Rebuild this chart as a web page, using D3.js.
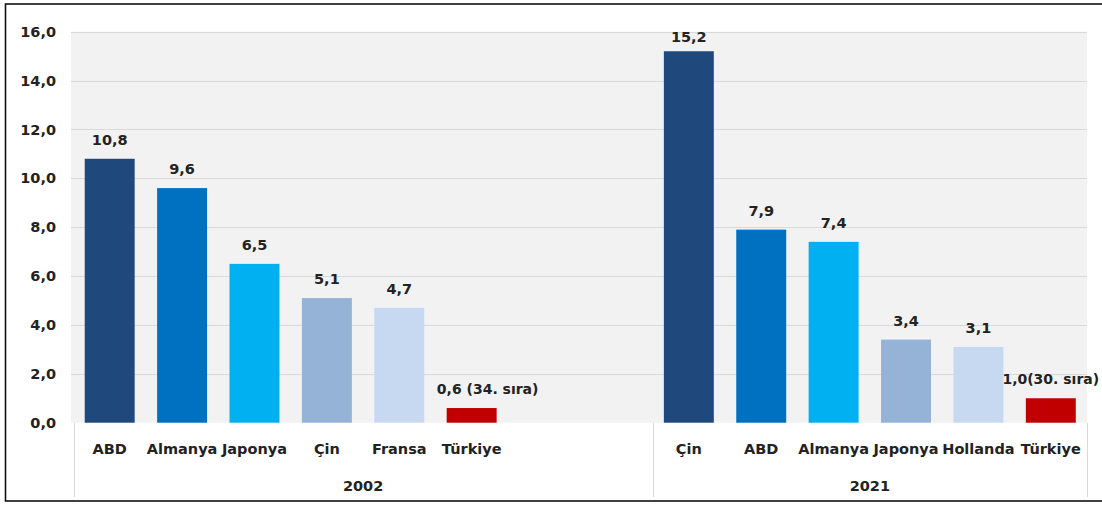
<!DOCTYPE html>
<html>
<head>
<meta charset="utf-8">
<script src="https://cdn.jsdelivr.net/npm/d3@7"></script>
<style>
  html, body { margin: 0; padding: 0; background: #fff; }
  svg { display: block; }
  text { font-family: "DejaVu Sans", sans-serif; font-weight: bold; fill: #222; }
</style>
</head>
<body>
<svg id="chart" width="1102" height="506"></svg>
<script>
// ---- data ----
const groups = ["2002", "2021"];
const categories2002 = ["ABD", "Almanya", "Japonya", "Çin", "Fransa", "Türkiye"];
const values2002 = [10.8, 9.6, 6.5, 5.1, 4.7, 0.6];
const labels2002 = ["10,8", "9,6", "6,5", "5,1", "4,7", "0,6 (34. sıra)"];
const categories2021 = ["Çin", "ABD", "Almanya", "Japonya", "Hollanda", "Türkiye"];
const values2021 = [15.2, 7.9, 7.4, 3.4, 3.1, 1.0];
const labels2021 = ["15,2", "7,9", "7,4", "3,4", "3,1", "1,0(30. sıra)"];
const yTicks = [0, 2, 4, 6, 8, 10, 12, 14, 16];
const emptySlots2002 = 2;

// ---- styles ----
const palette = ["#1F497D", "#0070C0", "#00B0F0", "#95B3D7", "#C6D9F1", "#C00000"];

// ---- build slots ----
const slots = [];
categories2002.forEach((c, i) => slots.push({key: "2002|" + c, name: c, value: values2002[i], label: labels2002[i], rank: i, group: "2002"}));
for (let k = 0; k < emptySlots2002; k++) slots.push({key: "2002|empty" + k, name: "", value: null, group: "2002"});
categories2021.forEach((c, i) => slots.push({key: "2021|" + c, name: c, value: values2021[i], label: labels2021[i], rank: i, group: "2021"}));

const svg = d3.select("#chart");
const plotLeft = 73.5, plotRight = 1087, plotTop = 31.7, plotBottom = 422.7;

const x = d3.scaleBand()
  .domain(slots.map(d => d.key))
  .range([plotLeft, plotRight])
  .paddingInner(0.31)
  .paddingOuter(0.155);
const y = d3.scaleLinear().domain([0, 16]).range([plotBottom, plotTop]);
const fmt = v => d3.format(".1f")(v).replace(".", ",");

// outer frame
svg.append("rect").attr("x", 5.5).attr("y", 4).attr("width", 1110).attr("height", 497)
  .attr("fill", "#fff").attr("stroke", "#111").attr("stroke-width", 1.6);

// plot background
svg.append("rect").attr("x", 71).attr("y", y(16)).attr("width", plotRight - 71)
  .attr("height", y(0) - y(16)).attr("fill", "#F2F2F2");

// gridlines
svg.append("g").selectAll("line").data(yTicks.filter(t => t > 0)).join("line")
  .attr("x1", 71).attr("x2", plotRight)
  .attr("y1", d => Math.round(y(d)) + 0.5).attr("y2", d => Math.round(y(d)) + 0.5)
  .attr("stroke", "#D9D9D9").attr("stroke-width", 1.2);

// y axis labels
const yAxis = d3.axisLeft(y).tickValues(yTicks).tickFormat(fmt).tickSize(0).tickPadding(0);
const yg = svg.append("g").attr("transform", `translate(56,0)`).call(yAxis);
yg.select(".domain").remove();
yg.selectAll("text").attr("font-size", 14.5).attr("font-family", "DejaVu Sans").attr("font-weight", "bold").attr("fill", "#222");

// bars
const barData = slots.filter(d => d.value != null);
svg.append("g").selectAll("rect").data(barData).join("rect")
  .attr("x", d => x(d.key))
  .attr("y", d => y(d.value))
  .attr("width", x.bandwidth())
  .attr("height", d => y(0) - y(d.value))
  .attr("fill", d => palette[d.rank]);

// value labels
svg.append("g").selectAll("text").data(barData).join("text")
  .attr("x", d => x(d.key) + x.bandwidth() / 2 + (d.key === "2002|Türkiye" ? 16 : 0))
  .attr("y", d => Math.max(y(d.value) - 14, plotTop + 10.5))
  .attr("text-anchor", "middle")
  .attr("font-size", d => d.rank === 5 ? 14 : 14.5)
  .text(d => d.label);

// category axis
const xAxis = d3.axisBottom(x).tickFormat(k => slots.find(s => s.key === k).name).tickSize(0).tickPadding(0);
const xg = svg.append("g").attr("transform", `translate(0,${plotBottom})`).call(xAxis);
xg.select(".domain").remove();
xg.selectAll("text").attr("dy", null).attr("y", 31.5).attr("font-size", 14.5)
  .attr("font-family", "DejaVu Sans").attr("font-weight", "bold").attr("fill", "#222");

// group dividers
const groupBounds = groups.map(g => {
  const gs = slots.filter(s => s.group === g);
  const a = x(gs[0].key) - x.step() * x.paddingOuter();
  const b = x(gs[gs.length - 1].key) + x.bandwidth() + x.step() * x.paddingOuter();
  return {g, a, b};
});
const dividerXs = [groupBounds[0].a, groupBounds[0].b, groupBounds[1].b];
svg.append("g").selectAll("line").data(dividerXs).join("line")
  .attr("x1", d => Math.round(d) + 0.5).attr("x2", d => Math.round(d) + 0.5)
  .attr("y1", plotBottom).attr("y2", 497)
  .attr("stroke", "#D9D9D9").attr("stroke-width", 1);

// group labels
svg.append("g").selectAll("text").data(groupBounds).join("text")
  .attr("x", d => (d.a + d.b) / 2)
  .attr("y", 491)
  .attr("text-anchor", "middle")
  .attr("font-size", 14.5)
  .text(d => d.g);
</script>
</body>
</html>
